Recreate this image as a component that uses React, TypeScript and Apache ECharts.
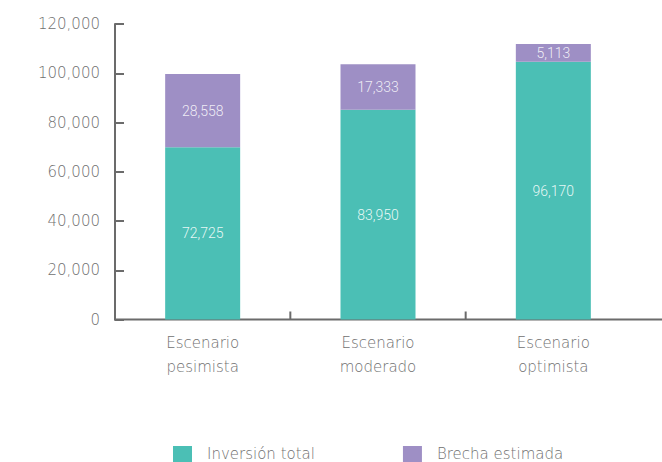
import React, { useEffect, useRef } from "react";
import * as echarts from "echarts";

// Categories (two-line labels)
const categories = ["Escenario\npesimista", "Escenario\nmoderado", "Escenario\noptimista"];
// Bar heights as drawn in the picture
const inversionTotal = [70000, 85200, 104700];
const brechaEstimada = [29700, 18500, 7200];
// Figures printed on the bars
const inversionLabels = ["72,725", "83,950", "96,170"];
const brechaLabels = ["28,558", "17,333", "5,113"];
const seriesNames = ["Inversión total", "Brecha estimada"];
const yTicks = [0, 20000, 40000, 60000, 80000, 100000, 120000];

const TEAL = "#4BBFB5";
const PURPLE = "#9E8FC5";
const AXIS = "#6b6b6b";
const TEXT = "#707070";
const FONT = "DejaVu Sans";
const BAR_FONT = "Roboto";

export default function App() {
  const ref = useRef<HTMLDivElement>(null);
  useEffect(() => {
    if (!ref.current) return;
    const chart = echarts.init(ref.current, undefined, { renderer: "svg" });
    const yMin = yTicks[0];
    const yMax = yTicks[yTicks.length - 1];
    const step = yTicks[1] - yTicks[0];
    const fmt = (v: number) => v.toLocaleString("en-US");
    chart.setOption({
      animation: false,
      textStyle: { fontFamily: FONT },
      grid: { left: 115, right: 21, top: 24, bottom: 142.5, containLabel: false },
      legend: {
        left: 173,
        top: 446,
        padding: 0,
        itemWidth: 19,
        itemHeight: 16,
        itemGap: 88,
        icon: "rect",
        data: seriesNames,
        textStyle: {
          fontSize: 15,
          lineHeight: 16,
          color: TEXT,
          fontWeight: 200,
          fontFamily: FONT,
          padding: [0, 0, 0, 10],
        },
      },
      xAxis: {
        type: "category",
        data: categories,
        axisLine: { show: false },
        axisTick: { show: false },
        axisLabel: {
          color: TEXT,
          fontSize: 15,
          fontWeight: 200,
          fontFamily: FONT,
          lineHeight: 24,
          margin: 11,
        },
      },
      yAxis: {
        type: "value",
        min: yMin,
        max: yMax,
        interval: step,
        splitLine: { show: false },
        axisLine: { show: true, lineStyle: { color: AXIS, width: 2 } },
        axisTick: { show: true, inside: true, length: 9, lineStyle: { color: AXIS, width: 2 } },
        axisLabel: {
          color: TEXT,
          fontSize: 15,
          fontWeight: 200,
          fontFamily: FONT,
          margin: 15,
          formatter: (v: number) => fmt(v),
        },
      },
      series: [
        {
          name: seriesNames[0],
          type: "bar",
          stack: "total",
          barWidth: 75,
          data: inversionTotal,
          itemStyle: { color: TEAL },
          label: {
            show: true,
            position: "inside",
            color: "rgba(255,255,255,0.88)",
            fontSize: 14,
            fontWeight: 300,
            fontFamily: BAR_FONT,
            formatter: (p: any) => inversionLabels[p.dataIndex],
          },
        },
        {
          name: seriesNames[1],
          type: "bar",
          stack: "total",
          barWidth: 75,
          data: brechaEstimada,
          itemStyle: { color: PURPLE },
          label: {
            show: true,
            position: "inside",
            color: "rgba(255,255,255,0.85)",
            fontSize: 14,
            fontWeight: 300,
            fontFamily: BAR_FONT,
            formatter: (p: any) => brechaLabels[p.dataIndex],
          },
        },
      ],
    });

    // Baseline and category boundary ticks, positioned through the axis scales
    const centers = categories.map((_, i) => chart.convertToPixel({ xAxisIndex: 0 }, i) as number);
    const yBase = chart.convertToPixel({ yAxisIndex: 0 }, yMin) as number;
    const half = centers.length > 1 ? (centers[1] - centers[0]) / 2 : 0;
    const gridLeft = centers[0] - half;
    const tickLines = centers.slice(1).map((c, i) => {
      const x = (centers[i] + c) / 2;
      return {
        type: "line",
        silent: true,
        shape: { x1: x, y1: yBase, x2: x, y2: yBase - 8 },
        style: { stroke: AXIS, lineWidth: 2 },
      };
    });
    chart.setOption({
      graphic: [
        ...tickLines,
        {
          type: "line",
          silent: true,
          shape: { x1: gridLeft - 1, y1: yBase, x2: 662, y2: yBase },
          style: { stroke: AXIS, lineWidth: 2 },
        },
      ],
    });
    return () => chart.dispose();
  }, []);
  return (
    <div
      ref={ref}
      style={{ position: "fixed", left: 0, top: 0, width: 662, height: 462, background: "#fff" }}
    />
  );
}
